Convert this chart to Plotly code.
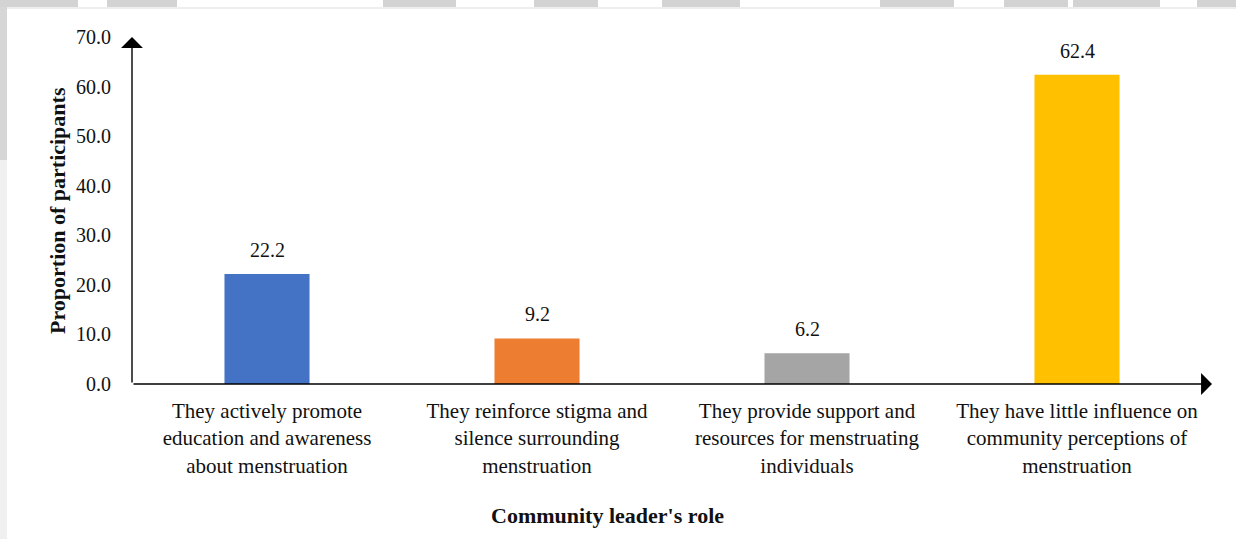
import plotly.graph_objects as go

# Survey results: perceived role of community leaders
categories = [
    "They actively promote<br>education and awareness<br>about menstruation",
    "They reinforce stigma and<br>silence surrounding<br>menstruation",
    "They provide support and<br>resources for menstruating<br>individuals",
    "They have little influence on<br>community perceptions of<br>menstruation",
]
proportions = [22.2, 9.2, 6.2, 62.4]
bar_colors = ["#4472C4", "#ED7D31", "#A5A5A5", "#FFC000"]
y_ticks = [0, 10, 20, 30, 40, 50, 60, 70]
y_tick_labels = [f"{v:.1f}" for v in y_ticks]
x_title = "Community leader's role"
y_title = "Proportion of participants"

FONT = "Palatino Linotype, Book Antiqua, Palatino, Liberation Serif, serif"
W, H = 1236, 539
L, R, T, B = 132, 24, 37, 155
PW, PH = W - L - R, H - T - B


def px_x(p):
    return (p - L) / PW


def px_y(p):
    return (H - B - p) / PH


fig = go.Figure()
fig.add_trace(go.Bar(
    x=categories,
    y=proportions,
    marker=dict(color=bar_colors, line=dict(width=0)),
    width=0.315,
    hoverinfo="x+y",
))

# value labels above each bar
for cat, val in zip(categories, proportions):
    fig.add_annotation(
        x=cat, y=val, text=f"{val:.1f}", showarrow=False,
        yanchor="bottom", yshift=11,
        font=dict(family=FONT, size=20, color="#111111"),
    )

# axis arrows
fig.add_annotation(
    xref="paper", yref="paper", x=0, y=1.0, ax=0, ay=PH,
    axref="pixel", ayref="pixel", text="", showarrow=True,
    arrowhead=1, arrowsize=2.6, arrowwidth=1.4, arrowcolor="#000000", standoff=0,
)
fig.add_annotation(
    xref="paper", yref="paper", x=1.0, y=0, ax=-PW, ay=0,
    axref="pixel", ayref="pixel", text="", showarrow=True,
    arrowhead=1, arrowsize=2.6, arrowwidth=1.4, arrowcolor="#000000", standoff=0,
)

# axis titles
fig.add_annotation(
    xref="paper", yref="paper", x=px_x(607), y=px_y(515),
    text=f"<b>{x_title}</b>", showarrow=False,
    xanchor="center", yanchor="middle",
    font=dict(family=FONT, size=22, color="#111111"),
)
fig.add_annotation(
    xref="paper", yref="paper", x=px_x(57), y=px_y(211),
    text=f"<b>{y_title}</b>", showarrow=False, textangle=-90,
    xanchor="center", yanchor="middle",
    font=dict(family=FONT, size=22, color="#111111"),
)

# page edge shading
shapes = []
top_blocks = [(0, 78), (107, 177), (383, 456), (534, 598), (662, 740),
              (880, 954), (1004, 1068), (1073, 1160), (1197, 1236)]


def rect(x0, x1, y0, y1, color):
    return dict(type="rect", xref="paper", yref="paper", layer="below",
                x0=px_x(x0), x1=px_x(x1), y0=px_y(y1), y1=px_y(y0),
                fillcolor=color, line=dict(width=0))


for x0, x1 in top_blocks:
    shapes.append(rect(x0, x1, 0, 7, "#d3d3d3"))
shapes.append(rect(0, W, 7, 9, "#eeeeee"))
shapes.append(rect(0, 7, 7, 160, "#d6d6d6"))
shapes.append(rect(0, 7, 160, H, "#f0f0f0"))

fig.update_layout(
    width=W, height=H,
    margin=dict(l=L, r=R, t=T, b=B),
    paper_bgcolor="#ffffff", plot_bgcolor="#ffffff",
    showlegend=False,
    bargap=0.685,
    font=dict(family=FONT, size=20, color="#111111"),
    shapes=shapes,
    xaxis=dict(
        showline=False, showgrid=False, zeroline=False, ticks="",
        ticklabelstandoff=12,
        tickfont=dict(family=FONT, size=21, color="#111111"),
    ),
    yaxis=dict(
        range=[0, 70], tickvals=y_ticks, ticktext=y_tick_labels,
        showline=False, showgrid=False, zeroline=False, ticks="",
        ticklabelstandoff=20,
        tickfont=dict(family=FONT, size=20, color="#111111"),
    ),
)

fig.write_html("out.html")
